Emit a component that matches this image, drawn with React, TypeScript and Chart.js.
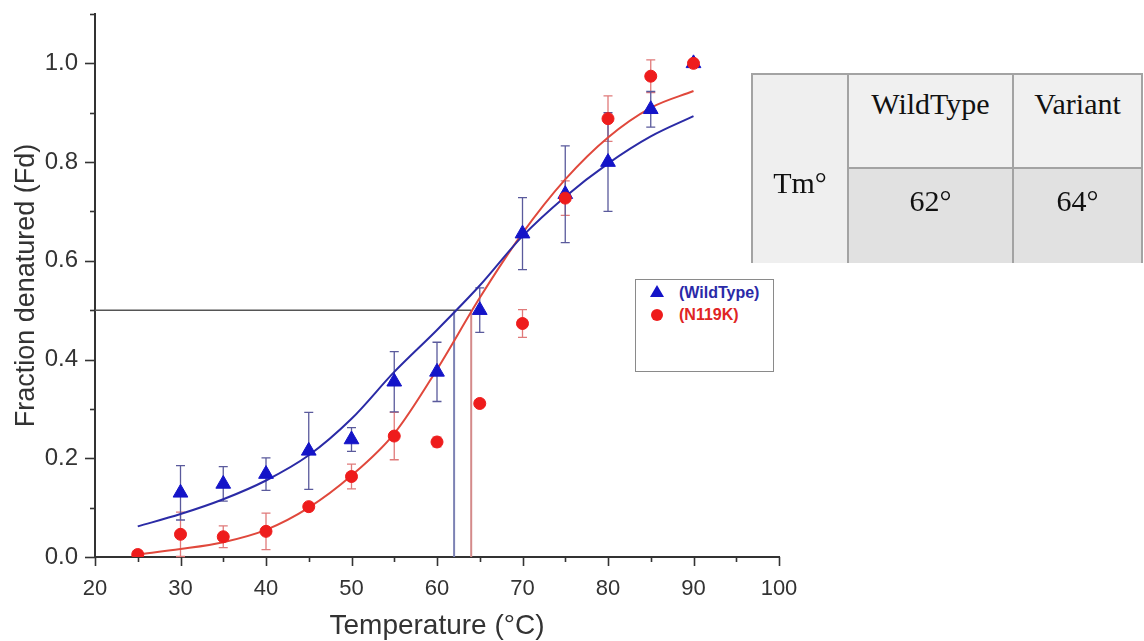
import React, { useEffect, useRef } from 'react';
import { Chart, registerables } from 'chart.js';

Chart.register(...registerables);

// ---- Data ----
const wildTypeTemps = [30, 35, 40, 45, 50, 55, 60, 65, 70, 75, 80, 85, 90];
const wildTypeValues = [0.13, 0.148, 0.168, 0.215, 0.238, 0.355, 0.375, 0.5, 0.655, 0.735, 0.8, 0.907, 1.0];
const wildTypeErrors = [0.055, 0.035, 0.033, 0.078, 0.024, 0.061, 0.06, 0.045, 0.073, 0.098, 0.1, 0.036, 0];

const variantTemps = [25, 30, 35, 40, 45, 50, 55, 60, 65, 70, 75, 80, 85, 90];
const variantValues = [0.005, 0.046, 0.041, 0.052, 0.102, 0.163, 0.245, 0.233, 0.311, 0.473, 0.727, 0.888, 0.974, 1.0];
const variantErrors = [0, 0.045, 0.022, 0.037, 0.008, 0.025, 0.048, 0.01, 0.006, 0.028, 0.035, 0.046, 0.033, 0];

const fitTemps = [25, 30, 35, 40, 45, 50, 55, 60, 65, 70, 75, 80, 85, 90];
const wildTypeFit = [0.062, 0.087, 0.117, 0.155, 0.206, 0.28, 0.375, 0.46, 0.55, 0.65, 0.73, 0.797, 0.852, 0.893];
const variantFit = [0.005, 0.016, 0.03, 0.055, 0.1, 0.165, 0.25, 0.38, 0.525, 0.656, 0.765, 0.85, 0.91, 0.944];

const tmWildType = 62;
const tmVariant = 64;
const halfLevel = 0.5;
const xMin = 20;
const xMax = 100;
const yMin = 0;
const yMax = 1.1;

const seriesNames = ['(WildType)', '(N119K)'];
const tableHeaders = ['WildType', 'Variant'];
const tableRowLabel = 'Tm°';
const tableValues = ['62°', '64°'];

const BLUE = '#1414c8';
const RED = '#ee1c1c';

const toPoints = (xs: number[], ys: number[]) => xs.map((x, i) => ({ x, y: ys[i] }));

const errorBarPlugin = {
  id: 'errorBars',
  beforeDatasetsDraw(chart: any) {
    const { ctx } = chart;
    const xs = chart.scales.x;
    const ys = chart.scales.y;
    chart.data.datasets.forEach((ds: any) => {
      const errs: number[] | undefined = ds.errorValues;
      if (!errs) return;
      ctx.save();
      ctx.strokeStyle = ds.errorColor;
      ctx.lineWidth = 1.3;
      ds.data.forEach((p: any, j: number) => {
        const e = errs[j];
        if (!e) return;
        const px = xs.getPixelForValue(p.x);
        const top = ys.getPixelForValue(p.y + e);
        const bot = ys.getPixelForValue(p.y - e);
        ctx.beginPath();
        ctx.moveTo(px, top);
        ctx.lineTo(px, bot);
        ctx.moveTo(px - 4.5, top);
        ctx.lineTo(px + 4.5, top);
        ctx.moveTo(px - 4.5, bot);
        ctx.lineTo(px + 4.5, bot);
        ctx.stroke();
      });
      ctx.restore();
    });
  },
};

const tickMarksPlugin = {
  id: 'tickMarks',
  afterDraw(chart: any) {
    const { ctx, chartArea } = chart;
    const xs = chart.scales.x;
    const ys = chart.scales.y;
    ctx.save();
    ctx.strokeStyle = '#333';
    ctx.lineWidth = 1.6;
    xs.ticks.forEach((t: any) => {
      const px = Math.round(xs.getPixelForValue(t.value)) + 0.5;
      const major = Math.round(t.value) % 10 === 0;
      ctx.beginPath();
      ctx.moveTo(px, chartArea.bottom);
      ctx.lineTo(px, chartArea.bottom + (major ? 9 : 5));
      ctx.stroke();
    });
    ys.ticks.forEach((t: any) => {
      const py = Math.round(ys.getPixelForValue(t.value)) + 0.5;
      const major = Math.round(t.value * 10) % 2 === 0;
      ctx.beginPath();
      ctx.moveTo(chartArea.left, py);
      ctx.lineTo(chartArea.left - (major ? 10 : 5), py);
      ctx.stroke();
    });
    ctx.restore();
  },
};

export default function App() {
  const canvasRef = useRef<HTMLCanvasElement>(null);

  useEffect(() => {
    const canvas = canvasRef.current;
    if (!canvas) return;
    const chart = new Chart(canvas, {
      type: 'scatter',
      data: {
        datasets: [
          {
            label: seriesNames[1],
            data: toPoints(variantTemps, variantValues),
            pointStyle: 'circle',
            pointRadius: 6,
            pointBackgroundColor: RED,
            pointBorderColor: RED,
            pointBorderWidth: 1,
            showLine: false,
            order: 0,
            errorValues: variantErrors,
            errorColor: '#e07a7a',
          } as any,
          {
            label: seriesNames[0],
            data: toPoints(wildTypeTemps, wildTypeValues),
            pointStyle: 'triangle',
            pointRadius: 8.5,
            pointBackgroundColor: BLUE,
            pointBorderColor: BLUE,
            pointBorderWidth: 1,
            showLine: false,
            order: 1,
            errorValues: wildTypeErrors,
            errorColor: '#5a5a9c',
          } as any,
          {
            label: 'WildType fit',
            data: toPoints(fitTemps, wildTypeFit),
            showLine: true,
            pointRadius: 0,
            borderColor: '#2b2ba6',
            borderWidth: 2,
            cubicInterpolationMode: 'monotone',
            order: 2,
          } as any,
          {
            label: 'N119K fit',
            data: toPoints(fitTemps, variantFit),
            showLine: true,
            pointRadius: 0,
            borderColor: '#e0483c',
            borderWidth: 2,
            cubicInterpolationMode: 'monotone',
            order: 3,
          } as any,
          {
            label: 'half',
            data: [
              { x: xMin, y: halfLevel },
              { x: tmVariant, y: halfLevel },
            ],
            showLine: true,
            pointRadius: 0,
            borderColor: '#555555',
            borderWidth: 1.5,
            order: 4,
          } as any,
          {
            label: 'Tm WildType',
            data: [
              { x: tmWildType, y: yMin },
              { x: tmWildType, y: halfLevel },
            ],
            showLine: true,
            pointRadius: 0,
            borderColor: '#7c82b4',
            borderWidth: 2,
            order: 5,
          } as any,
          {
            label: 'Tm Variant',
            data: [
              { x: tmVariant, y: yMin },
              { x: tmVariant, y: halfLevel },
            ],
            showLine: true,
            pointRadius: 0,
            borderColor: '#d48a8a',
            borderWidth: 2,
            order: 6,
          } as any,
        ],
      },
      options: {
        animation: false,
        responsive: false,
        devicePixelRatio: 1,
        layout: { padding: { left: 0, top: 14, right: 365, bottom: 0 } },
        plugins: {
          legend: { display: false },
          tooltip: { enabled: false },
        },
        scales: {
          x: {
            type: 'linear',
            min: xMin,
            max: xMax,
            grid: { display: false, drawTicks: false },
            border: { display: true, color: '#333', width: 2 },
            ticks: {
              stepSize: 5,
              padding: 19,
              color: '#333',
              font: { family: 'Liberation Sans, Arial, sans-serif', size: 22 },
              callback: (v: any) => (Math.round(Number(v)) % 10 === 0 ? String(v) : ''),
              maxRotation: 0,
              autoSkip: false,
            },
            title: {
              display: true,
              text: 'Temperature (°C)',
              color: '#333',
              font: { family: 'Liberation Sans, Arial, sans-serif', size: 28, lineHeight: 1 },
              padding: { top: 0, bottom: 1 },
            },
            afterFit: (scale: any) => {
              scale.height = 84;
              scale.paddingLeft = 0;
              scale.paddingRight = 0;
            },
          },
          y: {
            type: 'linear',
            min: yMin,
            max: yMax,
            grid: { display: false, drawTicks: false },
            border: { display: true, color: '#333', width: 2 },
            ticks: {
              stepSize: 0.1,
              padding: 17,
              color: '#333',
              font: { family: 'Liberation Sans, Arial, sans-serif', size: 24 },
              callback: (v: any) => {
                const n = Number(v);
                return Math.round(n * 10) % 2 === 0 ? n.toFixed(1) : '';
              },
              autoSkip: false,
            },
            title: {
              display: true,
              text: 'Fraction denatured (Fd)',
              color: '#333',
              font: { family: 'Liberation Sans, Arial, sans-serif', size: 27, lineHeight: 1 },
              padding: { top: 13, bottom: 0 },
            },
            afterFit: (scale: any) => {
              scale.width = 95;
              scale.paddingTop = 0;
              scale.paddingBottom = 0;
            },
          },
        },
      } as any,
      plugins: [errorBarPlugin, tickMarksPlugin],
    });
    return () => chart.destroy();
  }, []);

  const serif = '"Liberation Serif", "Times New Roman", serif';
  const border = '#a3a3a3';
  const cellText = (text: string, left: number, width: number, cy: number) => (
    <div
      style={{
        position: 'absolute',
        left,
        width,
        top: cy - 20,
        height: 40,
        lineHeight: '40px',
        textAlign: 'center',
        fontFamily: serif,
        fontSize: 30,
        color: '#111',
        whiteSpace: 'nowrap',
      }}
    >
      {text}
    </div>
  );

  return (
    <div
      style={{
        position: 'absolute',
        left: 0,
        top: 0,
        width: 1144,
        height: 641,
        background: '#ffffff',
        overflow: 'hidden',
      }}
    >
      <canvas ref={canvasRef} width={1144} height={641} style={{ position: 'absolute', left: 0, top: 0 }} />

      {/* Legend */}
      <div
        style={{
          position: 'absolute',
          left: 635,
          top: 279,
          width: 137,
          height: 91,
          border: '1.5px solid #8a8a8a',
          background: '#fff',
        }}
      />
      <div
        style={{
          position: 'absolute',
          left: 650,
          top: 285,
          width: 0,
          height: 0,
          borderLeft: '7px solid transparent',
          borderRight: '7px solid transparent',
          borderBottom: `12px solid ${BLUE}`,
        }}
      />
      <div
        style={{
          position: 'absolute',
          left: 651,
          top: 309,
          width: 12,
          height: 12,
          borderRadius: '50%',
          background: RED,
        }}
      />
      <div
        style={{
          position: 'absolute',
          left: 679,
          top: 283,
          height: 20,
          lineHeight: '20px',
          fontFamily: 'Liberation Sans, Arial, sans-serif',
          fontWeight: 'bold',
          fontSize: 16,
          color: '#2a2aa8',
          whiteSpace: 'nowrap',
        }}
      >
        {seriesNames[0]}
      </div>
      <div
        style={{
          position: 'absolute',
          left: 679,
          top: 305,
          height: 20,
          lineHeight: '20px',
          fontFamily: 'Liberation Sans, Arial, sans-serif',
          fontWeight: 'bold',
          fontSize: 16,
          color: '#e02424',
          whiteSpace: 'nowrap',
        }}
      >
        {seriesNames[1]}
      </div>

      {/* Tm table */}
      <div style={{ position: 'absolute', left: 751, top: 73, width: 392, height: 190, overflow: 'hidden' }}>
        <div style={{ position: 'absolute', left: 0, top: 0, width: 98, height: 220, background: '#efefef' }} />
        <div style={{ position: 'absolute', left: 98, top: 0, width: 294, height: 96, background: '#f0f0f0' }} />
        <div style={{ position: 'absolute', left: 98, top: 96, width: 294, height: 130, background: '#e1e1e1' }} />
        {/* borders */}
        <div style={{ position: 'absolute', left: 0, top: 0, width: 392, height: 2, background: border }} />
        <div style={{ position: 'absolute', left: 0, top: 0, width: 2, height: 220, background: border }} />
        <div style={{ position: 'absolute', left: 96, top: 0, width: 2, height: 220, background: border }} />
        <div style={{ position: 'absolute', left: 261, top: 0, width: 2, height: 220, background: border }} />
        <div style={{ position: 'absolute', left: 390, top: 0, width: 2, height: 220, background: border }} />
        <div style={{ position: 'absolute', left: 98, top: 94, width: 294, height: 2, background: border }} />
      </div>
      {cellText(tableHeaders[0], 849, 163, 104)}
      {cellText(tableHeaders[1], 1013, 129, 104)}
      {cellText(tableRowLabel, 753, 94, 183)}
      {cellText(tableValues[0], 849, 163, 201)}
      {cellText(tableValues[1], 1013, 129, 201)}
    </div>
  );
}
